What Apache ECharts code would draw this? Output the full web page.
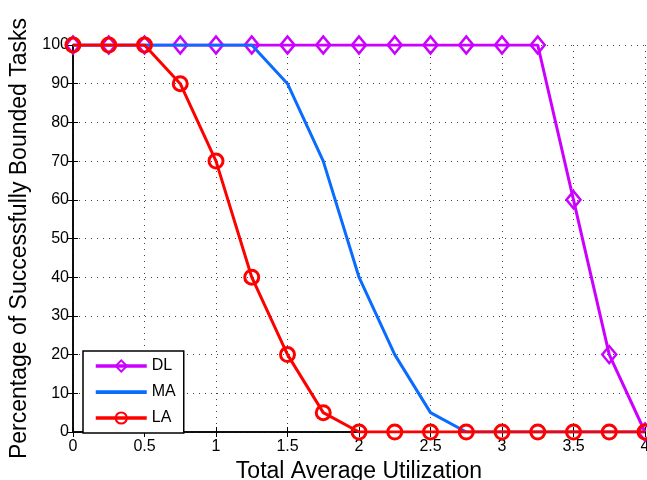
<!DOCTYPE html>
<html><head><meta charset="utf-8">
<script src="https://cdn.jsdelivr.net/npm/echarts@6/dist/echarts.min.js"></script>
<style>html,body{margin:0;padding:0;background:#fff}#c{width:647px;height:480px}</style>
</head><body><div id="c"></div>
<script>
var utilization = [0,0.25,0.5,0.75,1,1.25,1.5,1.75,2,2.25,2.5,2.75,3,3.25,3.5,3.75,4];
var dlValues = [100,100,100,100,100,100,100,100,100,100,100,100,100,100,60,20,0];
var maValues = [100,100,100,100,100,100,90,70,40,20,5,0,0,0,0,0,0];
var laValues = [100,100,100,90,70,40,20,5,0,0,0,0,0,0,0,0,0];
var xTickLabels = ['0','0.5','1','1.5','2','2.5','3','3.5','4'];
var yTickLabels = ['0','10','20','30','40','50','60','70','80','90','100'];

function pairs(v){ return utilization.map(function(x,i){return [x, v[i]];}); }
var font = 'Liberation Sans, Arial, sans-serif';
var chart = echarts.init(document.getElementById('c'), null, {renderer:'canvas'});
var gridLine = {show:true, lineStyle:{color:'#444', type:[1,5], width:1}};
var maIcon = 'path://M0,0h0.01v0.01h-0.01z M0,5.2h51v3.8h-51z M50.99,13.99h0.01v0.01h-0.01z';
chart.setOption({
  animation:false,
  backgroundColor:'#fff',
  grid:{left:73, right:2, top:45, bottom:48, containLabel:false, outerBoundsMode:'none'},
  legend:{
    orient:'vertical', left:83, top:351,
    data:['DL',{name:'MA', icon:maIcon},'LA'],
    backgroundColor:'#fff', borderColor:'#000', borderWidth:1.5,
    padding:[7,8,7,11], itemGap:10, itemWidth:51, itemHeight:14,
    lineStyle:{width:3.5},
    textStyle:{fontFamily:font, fontSize:16, color:'#000'}
  },
  xAxis:[{
    type:'value', min:0, max:4, interval:0.5, position:'bottom',
    name:'Total Average Utilization', nameLocation:'middle', nameGap:25,
    nameTextStyle:{fontFamily:font, fontSize:23, color:'#000'},
    axisLine:{show:true, onZero:false, lineStyle:{color:'#000', width:1.5}},
    axisTick:{show:true, inside:true, length:5, lineStyle:{color:'#000'}},
    axisLabel:{fontFamily:font, fontSize:16, color:'#000', margin:7,
      formatter:function(v){ var i=Math.round(v/0.5); return xTickLabels[i]; }},
    splitLine:gridLine
  },{
    type:'value', min:0, max:4, interval:0.5, position:'top',
    axisLine:{show:true, lineStyle:{color:'#000', width:1.5}},
    axisTick:{show:true, inside:true, length:5, lineStyle:{color:'#000'}},
    axisLabel:{show:false}, splitLine:{show:false}
  }],
  yAxis:[{
    type:'value', min:0, max:100, interval:10, position:'left',
    name:'Percentage of Successfully Bounded Tasks', nameLocation:'middle', nameGap:42,
    nameTextStyle:{fontFamily:font, fontSize:23, color:'#000'},
    axisLine:{show:true, onZero:false, lineStyle:{color:'#000', width:1.5}},
    axisTick:{show:true, inside:true, length:5, lineStyle:{color:'#000'}},
    axisLabel:{fontFamily:font, fontSize:16, color:'#000', margin:4,
      formatter:function(v){ return yTickLabels[Math.round(v/10)]; }},
    splitLine:gridLine
  },{
    type:'value', min:0, max:100, interval:10, position:'right',
    axisLine:{show:true, lineStyle:{color:'#000', width:1.5}},
    axisTick:{show:true, inside:true, length:5, lineStyle:{color:'#000'}},
    axisLabel:{show:false}, splitLine:{show:false}
  }],
  series:[
    {name:'DL', type:'line', data:pairs(dlValues), symbol:'diamond', symbolSize:[14,17],
      lineStyle:{color:'#cc00ff', width:3}, itemStyle:{color:'rgba(255,255,255,0)', borderColor:'#cc00ff', borderWidth:2.5},
      color:'#cc00ff', z:2},
    {name:'MA', type:'line', data:pairs(maValues), symbol:'none',
      lineStyle:{color:'#0a6cff', width:3}, itemStyle:{color:'#0a6cff'}, color:'#0a6cff', z:3},
    {name:'LA', type:'line', data:pairs(laValues), symbol:'circle', symbolSize:14,
      lineStyle:{color:'#ff0000', width:3}, itemStyle:{color:'rgba(255,255,255,0)', borderColor:'#ff0000', borderWidth:3},
      color:'#ff0000', z:4}
  ]
});
</script></body></html>
